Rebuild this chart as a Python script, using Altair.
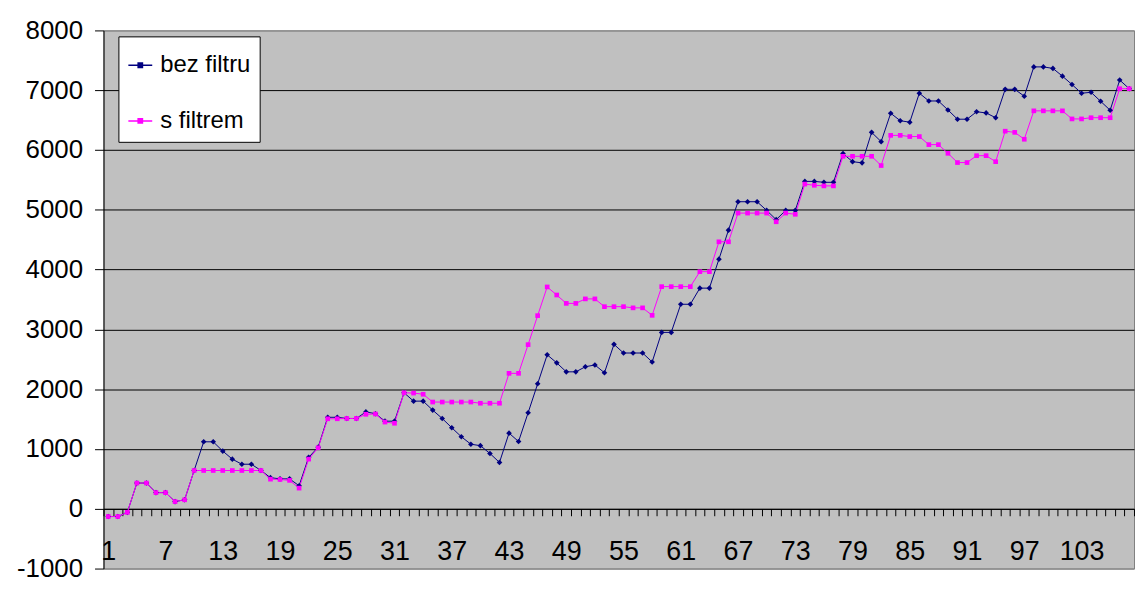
import altair as alt
import pandas as pd

categories = list(range(1, 109))

bez_filtru = [
    -130, -130, -60, 430, 430, 270, 270, 120, 150, 640,
    1120, 1120, 965, 830, 745, 745, 640, 520, 500, 500,
    385, 860, 1030, 1530, 1530, 1510, 1510, 1620, 1590, 1465,
    1465, 1940, 1800, 1800, 1650, 1510, 1355, 1205, 1080, 1055,
    925, 775, 1265, 1125, 1605, 2090, 2575, 2440, 2290, 2290,
    2375, 2405, 2275, 2750, 2605, 2605, 2605, 2455, 2950, 2950,
    3420, 3420, 3690, 3690, 4175, 4660, 5135, 5135, 5135, 4990,
    4835, 4990, 4990, 5475, 5475, 5460, 5460, 5940, 5805, 5785,
    6295, 6140, 6615, 6490, 6465, 6950, 6820, 6820, 6670, 6515,
    6515, 6640, 6620, 6540, 7015, 7015, 6900, 7390, 7390, 7365,
    7235, 7095, 6950, 6965, 6815, 6665, 7170, 7025,
]

s_filtrem = [
    -130, -130, -60, 430, 430, 270, 270, 120, 150, 640,
    640, 640, 640, 640, 640, 640, 640, 495, 490, 475,
    345, 830, 1020, 1505, 1505, 1510, 1510, 1580, 1585, 1450,
    1430, 1940, 1935, 1915, 1785, 1785, 1785, 1785, 1785, 1765,
    1765, 1765, 2265, 2265, 2745, 3230, 3710, 3575, 3435, 3435,
    3510, 3510, 3380, 3380, 3380, 3360, 3360, 3235, 3715, 3715,
    3715, 3715, 3965, 3965, 4465, 4465, 4945, 4945, 4945, 4945,
    4800, 4945, 4925, 5430, 5410, 5400, 5400, 5895, 5895, 5895,
    5895, 5740, 6245, 6245, 6225, 6225, 6090, 6090, 5945, 5790,
    5790, 5905, 5905, 5805, 6315, 6295, 6180, 6655, 6655, 6655,
    6655, 6520, 6520, 6540, 6540, 6540, 7025, 7025,
]

series_names = ["bez filtru", "s filtrem"]
series_colors = ["#000080", "#FF00FF"]
y_ticks = list(range(-1000, 8001, 1000))

df = pd.DataFrame({
    "x": categories + categories,
    "value": bez_filtru + s_filtrem,
    "series": [series_names[0]] * len(categories) + [series_names[1]] * len(categories),
})

W, H = 1036, 541
FONT = "Liberation Sans"

x_enc = alt.X(
    "x:O",
    scale=alt.Scale(type="band", paddingInner=0, paddingOuter=0),
    axis=alt.Axis(
        title=None,
        tickBand="extent",
        labelExpr="(toNumber(datum.value) - 1) % 6 === 0 ? datum.label : ''",
        labelAngle=0,
        labelOverlap=False,
        labelFlush=False,
        labelFont=FONT,
        labelFontSize=27,
        labelColor="black",
        labelBaseline="middle",
        labelPadding=36,
        tickSize=7,
        tickColor="black",
        tickWidth=1,
        domainColor="black",
        domainWidth=1,
        offset=-H / 9.0,
        grid=False,
    ),
)

y_enc = alt.Y(
    "value:Q",
    scale=alt.Scale(domain=[y_ticks[0], y_ticks[-1]], nice=False, zero=False),
    axis=alt.Axis(
        title=None,
        values=y_ticks,
        labelExpr="'' + datum.value",
        grid=True,
        gridColor={"condition": {"test": "datum.value === 8000 || datum.value === -1000", "value": "#808080"}, "value": "black"},
        gridWidth=1,
        tickSize=9,
        tickColor="black",
        domainColor="black",
        labelFont=FONT,
        labelFontSize=26,
        labelColor="black",
        labelPadding=12,
    ),
)

color_scale = alt.Scale(domain=series_names, range=series_colors)

base = alt.Chart(df).encode(x=x_enc, y=y_enc)

lines = base.mark_line(strokeWidth=1).encode(
    color=alt.Color(
        "series:N",
        scale=color_scale,
        legend=alt.Legend(
            title=" ",
            titleFontSize=6,
            titlePadding=1,
            orient="none",
            legendX=15,
            legendY=6,
            fillColor="white",
            strokeColor="black",
            padding=9,
            rowPadding=31,
            symbolType="M-1,0H1M-0.18,-0.18H0.18V0.18H-0.18Z",
            symbolSize=576,
            symbolStrokeWidth=1.5,
            labelFont=FONT,
            labelFontSize=24,
            labelColor="black",
            labelOffset=7,
        ),
    ),
    order=alt.Order("x:O"),
)

pts_bez = base.transform_filter(alt.datum.series == series_names[0]).mark_point(
    shape="diamond", filled=True, size=32, opacity=1
).encode(color=alt.Color("series:N", scale=color_scale, legend=None))

pts_s = base.transform_filter(alt.datum.series == series_names[1]).mark_point(
    shape="square", filled=True, size=22, opacity=1
).encode(color=alt.Color("series:N", scale=color_scale, legend=None))

chart = alt.layer(lines, pts_bez, pts_s).properties(
    width=W,
    height=H,
    autosize=alt.AutoSizeParams(type="none"),
    padding={"left": 96, "top": 21, "right": 2, "bottom": 18},
    background="white",
).configure_view(fill="#C0C0C0", stroke="#808080", strokeWidth=1)

chart.save("out.html", embed_options={"renderer": "svg", "actions": False})
